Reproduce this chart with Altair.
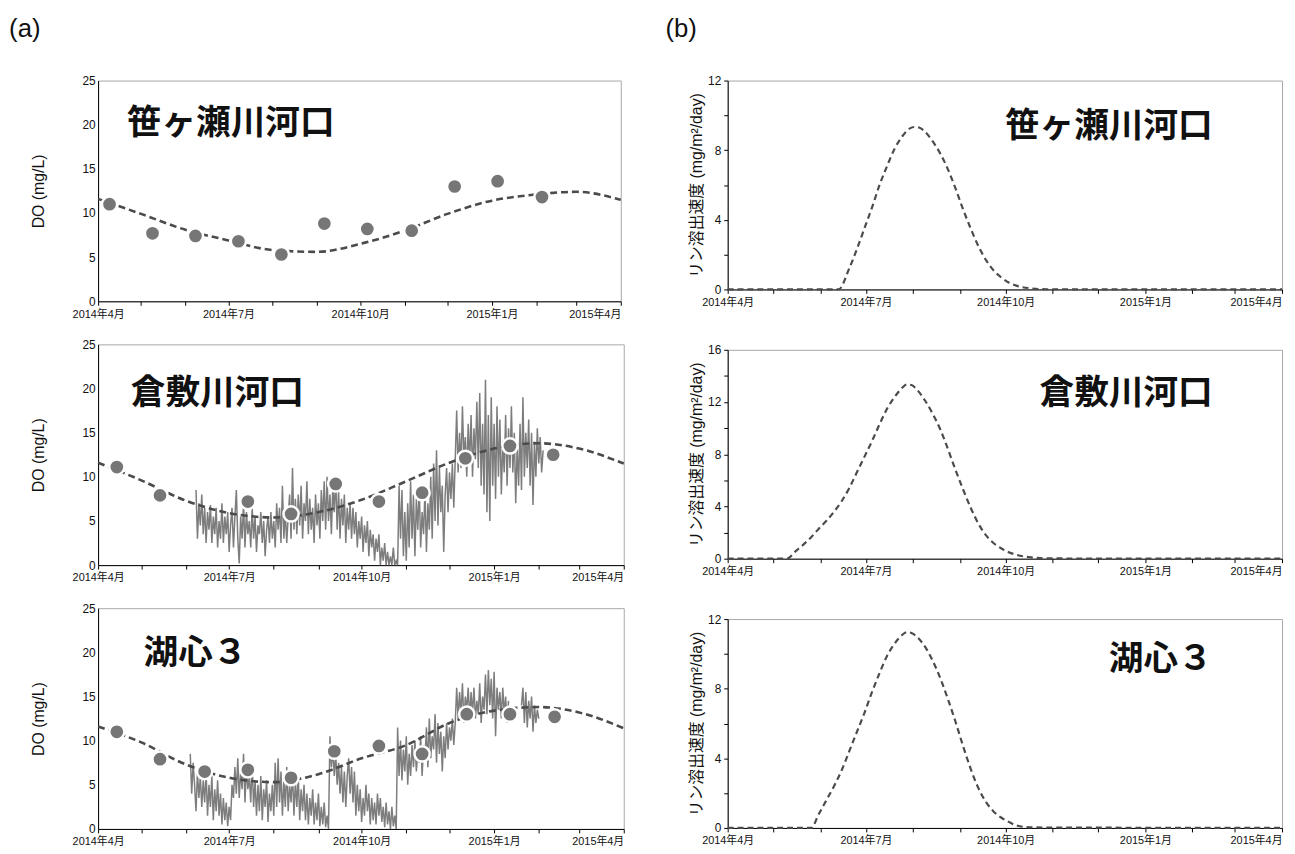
import altair as alt
import pandas as pd

# ---------------- data ----------------
START = "2014-04-01"
fit_month_starts = pd.date_range("2014-04-01", "2015-04-01", freq="MS")

site_names = ["笹ヶ瀬川河口", "倉敷川河口", "湖心３"]

# observed DO (dots)
obs_dates_1 = ["2014-04-09", "2014-05-09", "2014-06-08", "2014-07-08", "2014-08-07", "2014-09-06",
               "2014-10-06", "2014-11-06", "2014-12-06", "2015-01-05", "2015-02-05"]
obs_do_1 = [11.0, 7.7, 7.4, 6.8, 5.3, 8.8, 8.2, 8.0, 13.0, 13.6, 11.8]

obs_dates_2 = ["2014-04-14", "2014-05-14", "2014-07-14", "2014-08-13", "2014-09-13", "2014-10-13",
               "2014-11-12", "2014-12-12", "2015-01-12", "2015-02-11"]
obs_do_2 = [11.1, 7.9, 7.2, 5.8, 9.2, 7.2, 8.2, 12.1, 13.5, 12.5]

obs_dates_3 = ["2014-04-14", "2014-05-14", "2014-06-14", "2014-07-14", "2014-08-13", "2014-09-12",
               "2014-10-13", "2014-11-12", "2014-12-13", "2015-01-12", "2015-02-12"]
obs_do_3 = [11.0, 7.9, 6.5, 6.7, 5.8, 8.8, 9.4, 8.5, 13.0, 13.0, 12.7]

# fitted seasonal DO curve (dashed), values at month starts Apr 2014 .. Apr 2015
fit_do_1 = [11.6, 9.9, 8.1, 6.9, 5.8, 5.6, 6.5, 8.0, 9.9, 11.4, 12.1, 12.4, 11.5]
fit_do_2 = [11.6, 9.6, 7.3, 5.9, 5.4, 6.0, 7.4, 9.5, 11.6, 13.2, 13.8, 13.2, 11.5]
fit_do_3 = [11.6, 9.8, 7.3, 5.8, 5.3, 6.2, 8.0, 9.5, 12.0, 13.4, 13.8, 13.2, 11.4]

# continuous DO record, daily readings
cont_start_2 = "2014-06-08"
cont_do_2 = [
    8.5, 3.0, 7.0, 4.5, 8.0, 3.5, 6.5, 2.5, 6.0, 4.0,
    6.8, 2.5, 5.5, 3.5, 6.5, 2.0, 5.0, 3.0, 7.0, 2.5,
    5.5, 3.5, 6.0, 1.5, 4.5, 6.5, 2.0, 5.5, 8.5, 3.0,
    0.2, 5.5, 3.0, 7.0, 2.0, 6.0, 3.5, 5.0, 2.0, 6.5,
    3.0, 5.5, 1.5, 4.5, 3.5, 6.0, 2.5, 5.0, 1.0, 4.0,
    5.5, 2.5, 6.0, 3.0, 5.0, 2.0, 7.0, 4.0, 6.5, 2.5,
    9.0, 3.0, 6.0, 2.5, 5.5, 8.0, 3.0, 11.0, 4.0, 7.5,
    3.5, 8.0, 4.5, 9.0, 3.0, 7.0, 5.0, 9.5, 3.5, 7.5,
    4.0, 6.5, 2.5, 8.0, 4.5, 7.0, 3.0, 8.5, 5.0, 9.5,
    4.0, 10.0, 5.0, 8.0, 3.5, 9.0, 6.0, 10.0, 4.0, 8.5,
    3.0, 7.5, 4.5, 8.0, 2.5, 6.5, 4.0, 7.0, 3.0, 6.5,
    3.5, 6.0, 2.0, 5.0, 3.0, 5.5, 1.5, 4.5, 2.5, 5.0,
    1.0, 4.0, 2.0, 3.5, 0.5, 3.0, 1.5, 3.5, 0.0, 2.0,
    0.5, 2.5, 0.0, 1.5, 0.0, 1.0, 0.0, 2.0, 0.0, 0.5,
    0.0, 9.0, 3.0, 8.5, 1.0, 6.0, 0.5, 7.0, 2.0, 9.5,
    3.0, 8.0, 1.0, 7.5, 4.0, 9.0, 2.0, 6.0, 3.5, 8.5,
    1.5, 7.0, 4.0, 10.0, 3.0, 11.5, 5.0, 13.0, 4.5, 11.0,
    6.0, 9.0, 1.5, 8.0, 11.0, 6.0, 10.5, 7.5, 11.5, 6.5,
    12.0, 17.5, 10.5, 15.0, 11.0, 18.0, 12.0, 14.5, 10.0, 16.0,
    11.5, 17.0, 10.0, 15.5, 12.0, 18.5, 11.0, 19.5, 9.0, 16.0,
    8.0, 21.0, 6.0, 17.0, 5.0, 19.0, 9.0, 16.0, 7.5, 18.0,
    10.0, 16.5, 8.0, 14.0, 10.5, 17.0, 9.0, 15.5, 11.0, 18.0,
    10.5, 15.0, 7.0, 13.5, 9.0, 16.0, 8.5, 19.0, 10.0, 15.0,
    11.0, 16.5, 9.0, 15.0, 6.8, 14.0, 10.0, 15.5, 11.5, 14.5, 10.5, 13.0,
]

cont_start_3a = "2014-06-04"
cont_do_3a = [
    8.5, 4.0, 7.5, 5.0, 2.0, 6.5, 3.5, 6.0, 2.5, 5.5,
    3.0, 6.5, 1.5, 5.0, 2.5, 6.0, 1.0, 4.5, 2.0, 5.5,
    1.5, 4.0, 0.5, 3.5, 1.0, 3.0, 0.3, 2.5, 1.0, 5.0,
    3.5, 7.0, 4.0, 8.0, 3.5, 6.5, 4.5, 8.5, 3.0, 7.0,
    4.5, 6.0, 3.0, 7.5, 2.5, 5.5, 1.5, 5.0, 2.0, 6.0,
    1.0, 4.5, 2.5, 5.5, 0.8, 4.0, 2.0, 5.0, 1.5, 7.5,
    2.5, 8.0, 3.0, 6.5, 1.5, 5.5, 2.5, 7.0, 2.0, 5.0,
    3.0, 6.5, 1.5, 5.5, 2.5, 6.0, 1.0, 4.5, 2.0, 5.0,
    1.0, 4.0, 0.5, 3.5, 1.5, 4.5, 0.5, 3.0, 1.0, 4.0,
    0.3, 2.5, 0.5, 3.0, 0.2, 1.5, 0.0,
    10.5, 7.0, 9.0, 6.0, 8.5, 5.0, 7.5, 4.0, 7.0, 3.0,
    6.5, 2.5, 6.0, 8.0, 4.0, 7.0, 3.0, 6.5, 1.5, 5.0,
    2.0, 4.5, 0.8, 3.5, 1.5, 5.0, 2.0, 4.0, 0.5, 3.5,
    1.0, 3.0, 0.5, 4.0, 1.5, 3.5, 0.8, 2.5, 0.2, 3.0,
    0.5, 2.0, 0.0, 2.5, 0.3, 1.5, 0.0,
    11.5, 6.0, 10.0, 5.5, 9.0, 6.5, 10.5, 5.0, 8.5, 6.0,
    9.5, 7.0, 10.0, 6.5, 9.0, 7.5, 10.5, 6.0, 9.5, 8.0,
    11.5, 7.0, 12.5, 8.0, 10.5, 9.0, 13.0, 7.5, 12.0, 8.5,
    11.0, 6.5, 10.5, 8.0, 12.0, 9.0, 11.5, 10.0, 12.5, 9.5, 12.0,
    16.0, 12.5, 15.5, 13.0, 16.5, 12.0, 15.0, 13.5, 16.0, 12.5,
    15.5, 13.0, 16.0, 12.5, 14.5, 13.0, 16.5, 12.0, 15.0, 13.5,
    17.5, 13.0, 18.0, 14.0, 17.0, 12.5, 17.8, 10.5, 16.0, 13.5,
    15.5, 12.5, 16.0, 13.0, 15.0, 12.0, 14.5,
]
cont_start_3b = "2015-01-20"
cont_do_3b = [14.0, 16.0, 12.0, 15.5, 11.5, 14.5, 12.5, 15.0, 11.0, 14.0, 12.0, 13.5, 12.5]

# phosphorus release rate (days after 2014-04-01, value)
rel_days_1 = [0, 73, 80, 85, 90, 95, 100, 105, 110, 115, 120, 123, 126, 130, 135, 140, 145, 150,
              155, 160, 165, 170, 175, 180, 185, 190, 200, 210, 365]
rel_rate_1 = [0, 0, 1.2, 2.3, 3.5, 4.7, 6.0, 7.1, 8.1, 8.8, 9.25, 9.33, 9.3, 9.05, 8.5, 7.8, 6.9, 5.8,
              4.6, 3.5, 2.5, 1.7, 1.1, 0.7, 0.4, 0.22, 0.06, 0.01, 0]

rel_days_2 = [0, 39, 45, 50, 55, 60, 65, 70, 75, 80, 85, 90, 95, 100, 105, 110, 115, 118, 121, 125,
              130, 135, 140, 145, 150, 155, 160, 165, 170, 175, 180, 185, 190, 200, 210, 365]
rel_rate_2 = [0, 0, 0.6, 1.1, 1.65, 2.3, 2.9, 3.6, 4.4, 5.4, 6.6, 7.8, 9.0, 10.3, 11.5, 12.4, 13.1,
              13.35, 13.3, 12.9, 12.1, 11.1, 9.9, 8.4, 6.8, 5.3, 3.9, 2.7, 1.8, 1.2, 0.8, 0.5, 0.3,
              0.1, 0.02, 0]

rel_days_3 = [0, 55, 60, 65, 70, 75, 80, 85, 90, 95, 100, 105, 110, 115, 118, 121, 125, 130, 135,
              140, 145, 150, 155, 160, 165, 170, 175, 180, 185, 190, 200, 365]
rel_rate_3 = [0, 0, 0.8, 1.6, 2.4, 3.3, 4.4, 5.5, 6.6, 7.8, 8.9, 9.9, 10.6, 11.1, 11.25, 11.2, 10.95,
              10.4, 9.6, 8.6, 7.4, 6.1, 4.7, 3.4, 2.3, 1.5, 0.95, 0.6, 0.35, 0.15, 0.03, 0]

# ---------------- helpers ----------------
AX_FONT = "Liberation Sans, Noto Sans CJK JP, sans-serif"
JP_FONT = "Noto Sans CJK JP"
DARK = "#4b4b4b"
GRAY = "#7d7d7d"
DOT = "#767676"


def daily_frame(start, values):
    return pd.DataFrame({
        "date": pd.date_range(start, periods=len(values), freq="D"),
        "v": values,
    })


def offset_frame(days, values):
    return pd.DataFrame({
        "date": pd.Timestamp(START) + pd.to_timedelta(days, unit="D"),
        "v": values,
    })


x_tick_values = [alt.DateTime(year=int(d.year), month=int(d.month), date=1) for d in fit_month_starts]
label_expr = ("month(datum.value) % 3 == 0 ? year(datum.value) + '年' + "
              "(month(datum.value) + 1) + '月' : ''")
x_scale = alt.Scale(domain=[alt.DateTime(year=2014, month=4, date=1),
                            alt.DateTime(year=2015, month=4, date=1)], nice=False)
x_axis = alt.Axis(values=x_tick_values, labelExpr=label_expr, labelOverlap=False,
                  labelFlush=False, title=None,
                  labelAlign={"condition": {"test": "year(datum.value) == 2015 && month(datum.value) == 3",
                                            "value": "right"}, "value": "center"})
X = alt.X("date:T", scale=x_scale, axis=x_axis)


def y_left():
    return alt.Y("v:Q", scale=alt.Scale(domain=[0, 25], nice=False),
                 axis=alt.Axis(values=[0, 5, 10, 15, 20, 25], title="DO (mg/L)",
                               titlePadding=36, tickSize=0))


def y_right(top):
    return alt.Y("v:Q", scale=alt.Scale(domain=[0, top], nice=False),
                 axis=alt.Axis(values=list(range(0, top + 1, 2)),
                               labelExpr="datum.value % 4 == 0 ? datum.label : ''",
                               title="リン溶出速度 (mg/m²/day)", titlePadding=3, tickSize=4))


def name_text(name, x, y, align):
    return alt.Chart(pd.DataFrame({"t": [name]})).mark_text(
        font=JP_FONT, fontSize=35, fontWeight="bold", color="#111", align=align, baseline="middle"
    ).encode(x=alt.value(x), y=alt.value(y), text="t:N")


def tag_text(tag, x, y):
    return alt.Chart(pd.DataFrame({"t": [tag]})).mark_text(
        font="Liberation Sans", fontSize=26, color="#111", align="center", baseline="middle"
    ).encode(x=alt.value(x), y=alt.value(y), text="t:N")


def left_panel(obs_dates, obs_vals, fit_vals, name, name_pos, conts=(), width=531, extra=None):
    layers = []
    for df in conts:
        layers.append(alt.Chart(df).mark_line(color=GRAY, strokeWidth=1.5).encode(x=X, y=y_left()))
    fit_df = pd.DataFrame({"date": fit_month_starts, "v": fit_vals})
    layers.append(alt.Chart(fit_df).mark_line(color=DARK, strokeWidth=2.6, strokeDash=[7, 4],
                                              interpolate="monotone").encode(x=X, y=y_left()))
    obs_df = pd.DataFrame({"date": pd.to_datetime(obs_dates), "v": obs_vals})
    layers.append(alt.Chart(obs_df).mark_circle(size=235, color=DOT, opacity=1, stroke="white",
                                                strokeWidth=2.5).encode(x=X, y=y_left()))
    layers.append(name_text(name, name_pos[0], name_pos[1], "left"))
    if extra is not None:
        layers.append(extra)
    return alt.layer(*layers).properties(width=width, height=223)


def right_panel(days, vals, top, name, name_pos, extra=None):
    df = offset_frame(days, vals)
    layers = [
        alt.Chart(df).mark_line(color=DARK, strokeWidth=2.2, strokeDash=[6, 4],
                                interpolate="monotone").encode(x=X, y=y_right(top)),
        name_text(name, name_pos[0], name_pos[1], "right"),
    ]
    if extra is not None:
        layers.append(extra)
    return alt.layer(*layers).properties(width=560, height=211)


# ---------------- panels ----------------
a1 = left_panel(obs_dates_1, obs_do_1, fit_do_1, site_names[0], (29, 43), width=528,
                extra=tag_text("(a)", -74, -52))
a2 = left_panel(obs_dates_2, obs_do_2, fit_do_2, site_names[1], (33, 49),
                conts=[daily_frame(cont_start_2, cont_do_2)])
a3 = left_panel(obs_dates_3, obs_do_3, fit_do_3, site_names[2], (46, 45),
                conts=[daily_frame(cont_start_3a, cont_do_3a), daily_frame(cont_start_3b, cont_do_3b)])

b1 = right_panel(rel_days_1, rel_rate_1, 12, site_names[0], (490, 46), extra=tag_text("(b)", -47, -52))
b2 = right_panel(rel_days_2, rel_rate_2, 16, site_names[1], (490, 44))
b3 = right_panel(rel_days_3, rel_rate_3, 12, site_names[2], (490, 40))

left_col = alt.vconcat(a1, a2, a3, spacing=43.5, bounds="flush")
right_col = alt.vconcat(b1, b2, b3, spacing=61, bounds="flush")

chart = alt.hconcat(left_col, right_col, spacing=35).properties(
    padding={"left": 0, "top": 3, "right": 0, "bottom": 0}
).configure_view(
    stroke="#a8a8a8", strokeWidth=1
).configure_axis(
    grid=False, domainColor="#000", domainWidth=1, tickColor="#000", tickSize=4,
    labelColor="#111", labelFont=AX_FONT, labelFontSize=11, labelPadding=3,
    titleFont=AX_FONT, titleFontSize=16, titleFontWeight="normal", titleColor="#111"
).configure_axisY(
    labelFontSize=12
)

chart.save("out.html", embed_options={"renderer": "svg", "actions": False})
